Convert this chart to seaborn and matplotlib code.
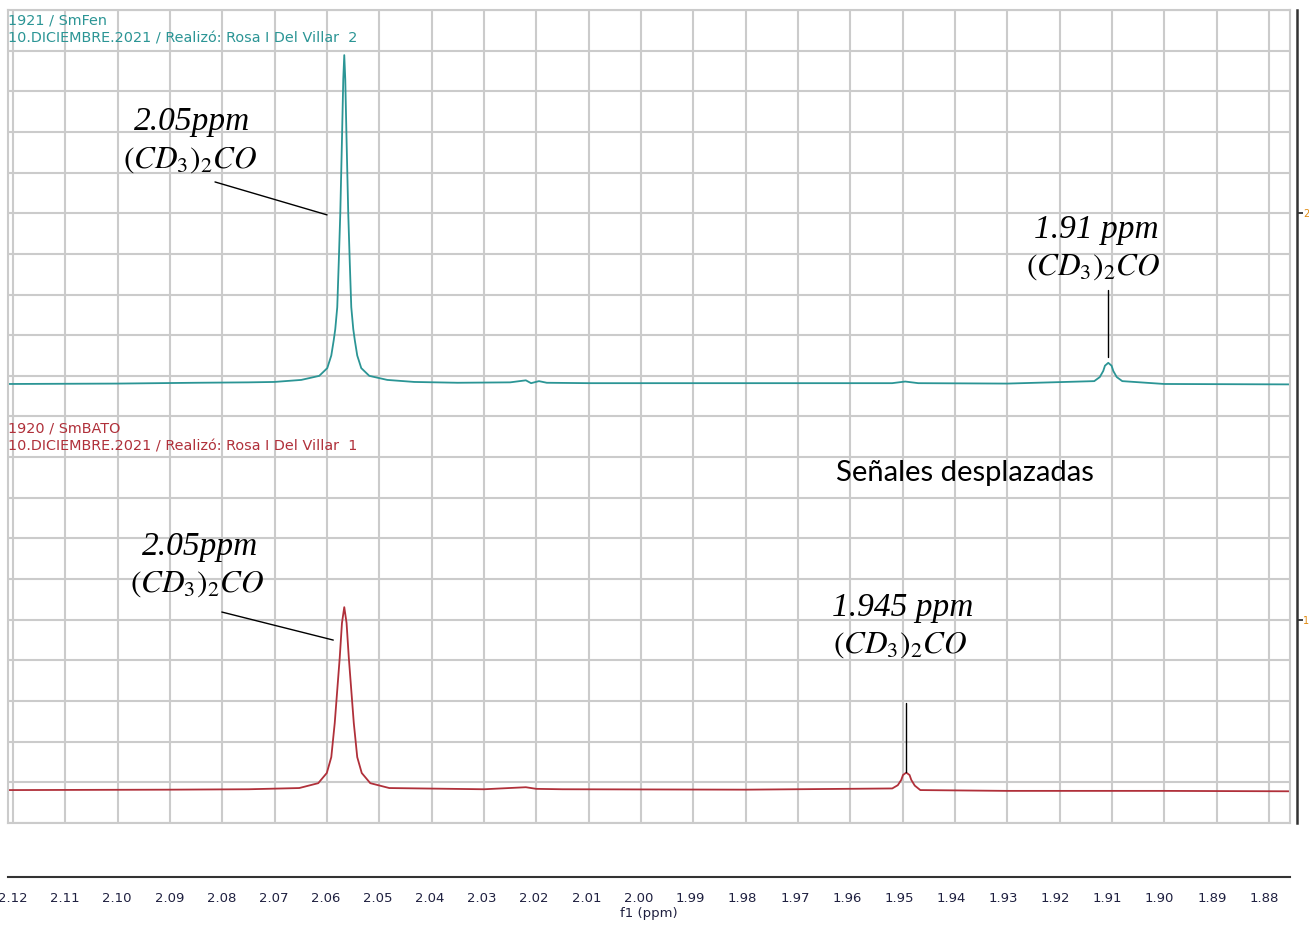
import numpy as np
import seaborn as sns
import matplotlib.pyplot as plt

# ppm / intensity (intensity in grid units, 0-20)
ppm_fen = [2.1210, 2.1000, 2.0850, 2.0750, 2.07008, 2.06492, 2.06148, 2.05995,
           2.05918, 2.05871, 2.05842, 2.05804, 2.05775, 2.05746, 2.05714, 2.05689,
           2.0567, 2.05651, 2.05626, 2.05594, 2.05565, 2.05536, 2.05498, 2.05469,
           2.05422, 2.05345, 2.05192, 2.04848, 2.04332, 2.0350, 2.0250, 2.0220,
           2.0210, 2.0195, 2.0180, 2.0100, 1.9800, 1.9520, 1.9495, 1.9470,
           1.9300, 1.91338, 1.91232, 1.91166, 1.91133, 1.9107, 1.91007, 1.90974,
           1.90908, 1.90802, 1.9000, 1.8760]
int_fen = [10.80, 10.81, 10.83, 10.84, 10.85, 10.90, 11.00, 11.19,
           11.50, 11.88, 12.15, 12.69, 13.80, 15.00, 16.80, 18.30,
           18.89, 18.30, 16.80, 15.00, 13.80, 12.69, 12.15, 11.88,
           11.50, 11.19, 11.00, 10.90, 10.85, 10.83, 10.84, 10.89,
           10.82, 10.87, 10.83, 10.82, 10.82, 10.82, 10.86, 10.82,
           10.81, 10.87, 10.97, 11.12, 11.25, 11.32, 11.25, 11.12,
           10.97, 10.87, 10.80, 10.79]

ppm_bato = [2.1210, 2.0900, 2.0750, 2.0653, 2.06167, 2.06004, 2.05918, 2.05852,
            2.05804, 2.05756, 2.05714, 2.0567, 2.05626, 2.05584, 2.05536, 2.05488,
            2.05422, 2.05336, 2.05173, 2.0481, 2.0300, 2.0220, 2.0200, 2.0150,
            1.9800, 1.95198, 1.95092, 1.95026, 1.94993, 1.9493, 1.94867, 1.94834,
            1.94768, 1.94662, 1.9300, 1.9000, 1.8760]
int_bato = [0.81, 0.82, 0.83, 0.86, 0.98, 1.23, 1.62, 2.46,
            3.27, 4.08, 4.92, 5.31, 4.92, 4.08, 3.27, 2.46,
            1.62, 1.23, 0.98, 0.86, 0.83, 0.88, 0.84, 0.83,
            0.82, 0.85, 0.93, 1.06, 1.18, 1.24, 1.18, 1.06,
            0.92, 0.81, 0.79, 0.79, 0.78]

x_ticks = [2.12, 2.11, 2.10, 2.09, 2.08, 2.07, 2.06, 2.05, 2.04, 2.03, 2.02, 2.01, 2.00,
           1.99, 1.98, 1.97, 1.96, 1.95, 1.94, 1.93, 1.92, 1.91, 1.90, 1.89, 1.88]
right_ticks = [5, 15]
right_labels = ['1', '2']

TEAL = '#2b9595'
RED = '#b0303a'
GRID = '#cbcbcb'

sns.set_style('white')
plt.rcParams['mathtext.fontset'] = 'stix'

W, H = 1309, 926
fig = plt.figure(figsize=(W / 100, H / 100), dpi=100)
XLIM = (2.12096, 1.87597)

ax = fig.add_axes([8 / W, (H - 823) / H, 1282 / W, 813 / H])
sns.lineplot(x=ppm_fen, y=int_fen, ax=ax, color=TEAL, lw=1.3)
sns.lineplot(x=ppm_bato, y=int_bato, ax=ax, color=RED, lw=1.3)
ax.set_xlim(*XLIM)
ax.set_ylim(0, 20)
ax.set_xticks(x_ticks)
ax.set_yticks(range(0, 21))
ax.tick_params(length=0, labelbottom=False, labelleft=False)
ax.grid(True, color=GRID, lw=1.5)
ax.set_axisbelow(True)
for s in ax.spines.values():
    s.set_color(GRID)
    s.set_linewidth(1.5)
ax.set_xlabel('')
ax.set_ylabel('')

# annotations
ppm_txt = dict(fontsize=24, ha='center', va='center', color='black',
               family='Liberation Serif', style='italic')
cd_txt = dict(fontsize=22.5, ha='center', va='center', color='black')
ax.text(2.0858, 17.24, '2.05ppm', **ppm_txt)
ax.text(2.0862, 16.31, r'$(CD_3)_2CO$', **cd_txt)
ax.plot([2.0814, 2.0600], [15.77, 14.96], color='black', lw=1)

ax.text(1.9130, 14.59, '1.91 ppm', **ppm_txt)
ax.text(1.9136, 13.68, r'$(CD_3)_2CO$', **cd_txt)
ax.plot([1.9107, 1.9107], [13.11, 11.46], color='black', lw=1)

ax.text(2.0843, 6.79, '2.05ppm', **ppm_txt)
ax.text(2.0848, 5.88, r'$(CD_3)_2CO$', **cd_txt)
ax.plot([2.0801, 2.0588], [5.19, 4.50], color='black', lw=1)

ax.text(1.9499, 5.29, '1.945 ppm', **ppm_txt)
ax.text(1.9505, 4.38, r'$(CD_3)_2CO$', **cd_txt)
ax.plot([1.9494, 1.9494], [2.95, 1.25], color='black', lw=1)

ax.text(1.9381, 8.61, 'Señales desplazadas', fontsize=21, family='Lato',
        ha='center', va='center', color='black')

# spectrum headers
hdr = dict(fontsize=10.4, ha='left', va='center')
fig.text(8 / W, 1 - 20 / H, '1921 / SmFen', color=TEAL, **hdr)
fig.text(8 / W, 1 - 39 / H, '10.DICIEMBRE.2021 / Realizó: Rosa I Del Villar  2', color=TEAL, **hdr)
fig.text(8 / W, 1 - 428 / H, '1920 / SmBATO', color=RED, **hdr)
fig.text(8 / W, 1 - 446 / H, '10.DICIEMBRE.2021 / Realizó: Rosa I Del Villar  1', color=RED, **hdr)

# separate ppm axis below the plot box
axx = fig.add_axes([8 / W, (H - 877) / H, 1282 / W, 0])
axx.set_xlim(*XLIM)
axx.set_yticks([])
for side in ['top', 'left', 'right']:
    axx.spines[side].set_visible(False)
axx.spines['bottom'].set_color('#333333')
axx.spines['bottom'].set_linewidth(1.5)
axx.set_xticks(x_ticks)
axx.set_xticklabels(['%.2f' % t for t in x_ticks])
axx.set_xticks(np.arange(1.875, 2.125, 0.01), minor=True)
axx.tick_params(axis='x', which='major', direction='out', length=7, width=1.3,
                color='#333333', labelsize=9.5, labelcolor='#1f2040', pad=4)
axx.tick_params(axis='x', which='minor', direction='out', length=4, width=1.1,
                color='#333333')
axx.set_xlabel('f1 (ppm)', fontsize=9.5, color='#1f2040', labelpad=1)

# intensity axis on the right edge
axr = fig.add_axes([1297 / W, (H - 823) / H, 0, 813 / H])
axr.set_ylim(0, 20)
axr.set_xticks([])
for side in ['top', 'bottom', 'left']:
    axr.spines[side].set_visible(False)
axr.spines['right'].set_color('#333333')
axr.spines['right'].set_linewidth(1.8)
axr.yaxis.tick_right()
axr.set_yticks(right_ticks)
axr.set_yticklabels(right_labels)
axr.tick_params(axis='y', direction='out', length=4, width=1.3, color='#333333',
                labelsize=7, labelcolor='#e08a10', pad=0.5)

fig.savefig('out.png', dpi=100)
